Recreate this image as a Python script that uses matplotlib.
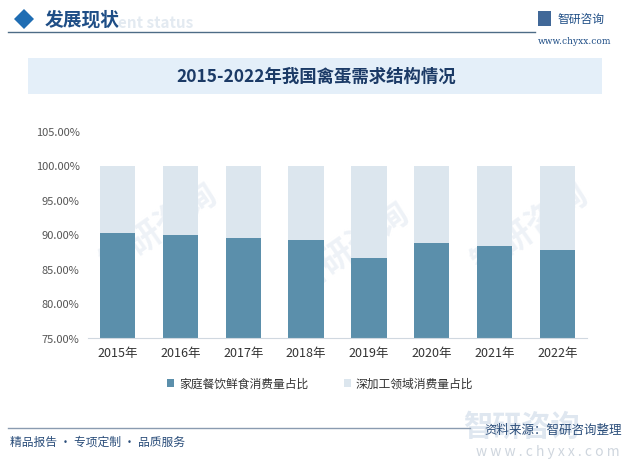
import matplotlib.pyplot as plt
from matplotlib.patches import Rectangle, Polygon
from matplotlib.lines import Line2D

plt.rcParams['font.family'] = ['Noto Sans CJK SC', 'DejaVu Sans']

years = ['2015年', '2016年', '2017年', '2018年', '2019年', '2020年', '2021年', '2022年']
household = [90.2, 90.0, 89.5, 89.2, 86.6, 88.8, 88.3, 87.8]
processing = [100 - v for v in household]
yticks = [75, 80, 85, 90, 95, 100, 105]

dark = '#5b8fab'
light = '#dce6ee'

fig = plt.figure(figsize=(6.4, 4.77), dpi=100)
fig.patch.set_facecolor('white')

# faint diagonal watermarks, kept behind the chart
for (x, y) in [(0.25, 0.52), (0.55, 0.48), (0.83, 0.52)]:
    fig.text(x, y, '智研咨询', fontsize=24, color='#eef2f7', rotation=35,
             ha='center', va='center', fontweight='bold', zorder=-1)

# header
fig.patches.append(Polygon([[14, 477 - 20], [24, 477 - 10], [34, 477 - 20], [24, 477 - 30]],
                           closed=True, transform=None, facecolor='#1f6db3', edgecolor='none'))
fig.text(45 / 640, 1 - 20 / 477, '发展现状', fontsize=13.5, color='#1f4e86', va='center', fontweight='bold')
fig.text(118 / 640, 1 - 23 / 477, 'ent status', fontsize=11, color='#e3eaf1', va='center', fontweight='bold')
fig.lines.append(Line2D([8 / 640, 535 / 640], [1 - 33 / 477, 1 - 33 / 477], transform=fig.transFigure,
                        color='#4d6c86', lw=1))
fig.patches.append(Rectangle((538 / 640, 1 - 27 / 477), 13 / 640, 15 / 477, transform=fig.transFigure,
                             facecolor='#1f4e86', edgecolor='none', alpha=0.85))
fig.text(557 / 640, 1 - 19 / 477, '智研咨询', fontsize=8.5, color='#1f4e86', va='center')
fig.text(538 / 640, 1 - 41 / 477, 'www.chyxx.com', fontsize=6.5, color='#1f4e86', va='center',
         family='DejaVu Serif')

# title box
fig.patches.append(Rectangle((28 / 640, 1 - 95 / 477), 574 / 640, 36 / 477, transform=fig.transFigure,
                             facecolor='#e4eff9', edgecolor='none'))
fig.text(316 / 640, 1 - 77 / 477, '2015-2022年我国禽蛋需求结构情况', fontsize=12.5, color='#1b3a66',
         ha='center', va='center', fontweight='bold')

ax = fig.add_axes([88 / 640, 1 - 339 / 477, 499 / 640, (339 - 132) / 477])
ax.set_facecolor('none')
x = list(range(len(years)))
ax.bar(x, household, width=0.56, color=dark, label='家庭餐饮鲜食消费量占比', zorder=2)
ax.bar(x, processing, width=0.56, bottom=household, color=light, label='深加工领域消费量占比', zorder=2)
ax.set_ylim(75, 105)
ax.set_xlim(-0.47, 7.47)
ax.set_yticks(yticks)
ax.set_yticklabels([f'{v:.2f}%' for v in yticks], fontsize=8, color='#555555')
ax.set_xticks(x)
ax.set_xticklabels(years, fontsize=9, color='#333333')
ax.tick_params(axis='both', length=0, pad=6)
for s in ['top', 'right', 'left']:
    ax.spines[s].set_visible(False)
ax.spines['bottom'].set_color('#d0d8e0')

ax.legend(loc='center', bbox_to_anchor=(0.465, -0.22), ncol=2, frameon=False, fontsize=8.5,
          handlelength=0.6, handleheight=0.6, columnspacing=3, handletextpad=0.4, labelcolor='#333333')

# footer
fig.lines.append(Line2D([8 / 640, 470 / 640], [1 - 429 / 477, 1 - 429 / 477], transform=fig.transFigure,
                        color='#8a9bb0', lw=1))
fig.text(10 / 640, 1 - 442 / 477, '精品报告 · 专项定制 · 品质服务', fontsize=8.5, color='#2a4d7a', va='center')
fig.text(463 / 640, 1 - 427 / 477, '智研咨询', fontsize=21, color='#dfe7f0', va='center', fontweight='bold',
         zorder=-1)
fig.text(622 / 640, 1 - 430 / 477, '资料来源：智研咨询整理', fontsize=9, color='#2a4d7a', va='center', ha='right')
fig.text(620 / 640, 1 - 452 / 477, 'w w w . c h y x x . c o m', fontsize=10, color='#cfd6de', va='center',
         ha='right')

fig.savefig('out.png', dpi=100)
